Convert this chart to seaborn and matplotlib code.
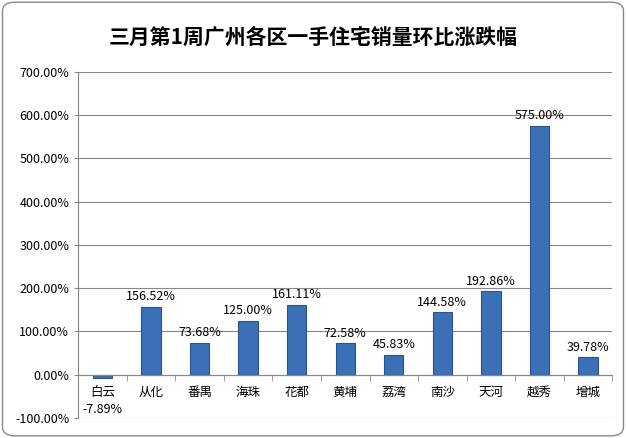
import matplotlib
matplotlib.use("Agg")
import matplotlib.pyplot as plt
import seaborn as sns
import pandas as pd
from matplotlib.patches import FancyBboxPatch
from matplotlib import font_manager

names = {f.name for f in font_manager.fontManager.ttflist}
cjk = [n for n in ["Noto Sans CJK SC", "Noto Sans CJK JP", "Noto Sans CJK TC", "Noto Sans CJK KR"] if n in names]
plt.rcParams["font.family"] = "sans-serif"
plt.rcParams["font.sans-serif"] = cjk + ["DejaVu Sans"]

categories = ["白云", "从化", "番禺", "海珠", "花都", "黄埔", "荔湾", "南沙", "天河", "越秀", "增城"]
values = [-7.89, 156.52, 73.68, 125.00, 161.11, 72.58, 45.83, 144.58, 192.86, 575.00, 39.78]
yticks = [-100, 0, 100, 200, 300, 400, 500, 600, 700]

df = pd.DataFrame({"cat": categories, "val": values})

fig = plt.figure(figsize=(6.26, 4.38), dpi=100)
fig.patches.append(FancyBboxPatch((0.004, 0.005), 0.992, 0.99, boxstyle="round,pad=0,rounding_size=0.02",
                                  transform=fig.transFigure, fill=False, edgecolor="#888888", lw=1))
ax = fig.add_axes([0.125, 0.046, 0.853, 0.79])
sns.barplot(data=df, x="cat", y="val", color="#3b6fb6", width=0.4, ax=ax,
            edgecolor="#2a528c", linewidth=0.8, saturation=1)
ax.set_ylim(-100, 700)
ax.set_xlim(-0.5, len(categories) - 0.5)
ax.set_yticks(yticks)
ax.set_yticklabels([f"{t:.2f}%" for t in yticks], fontsize=9)
ax.yaxis.grid(True, color="#888888", lw=0.8)
ax.set_axisbelow(True)
for s in ["top", "right"]:
    ax.spines[s].set_visible(False)
ax.spines["left"].set_color("#888888")
ax.spines["bottom"].set_color("#888888")
ax.spines["bottom"].set_position(("data", 0))
ax.set_xticks(range(len(categories)))
ax.set_xticklabels(categories)
ax.set_xticks([i + 0.5 for i in range(len(categories))], minor=True)
ax.tick_params(axis="x", which="major", length=0, labelsize=9, pad=8)
ax.tick_params(axis="x", which="minor", length=4, color="#888888")
ax.tick_params(axis="y", length=3, color="#888888")
ax.set_xlabel("")
ax.set_ylabel("")
for i, v in enumerate(values):
    if v >= 0:
        ax.text(i, v + 8, f"{v:.2f}%", ha="center", va="bottom", fontsize=9)
    else:
        ax.text(i, -80, f"{v:.2f}%", ha="center", va="center", fontsize=9)
fig.text(0.5, 0.915, "三月第1周广州各区一手住宅销量环比涨跌幅", ha="center", va="center",
         fontsize=15, fontweight="bold")
fig.savefig("out.png", dpi=100)
